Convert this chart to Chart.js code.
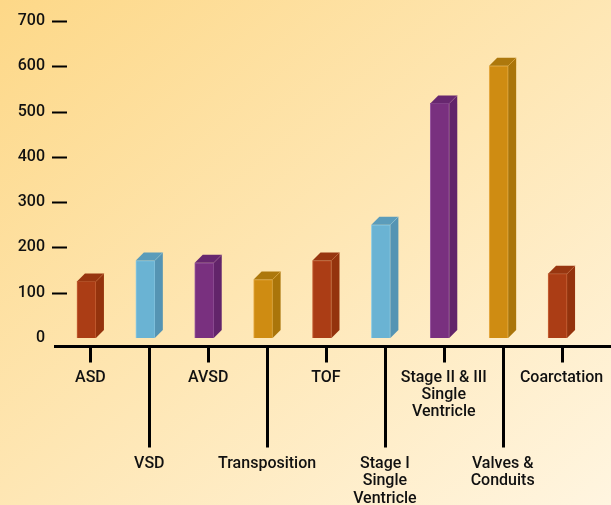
<!DOCTYPE html>
<html>
<head>
<meta charset="utf-8">
<script src="https://cdn.jsdelivr.net/npm/chart.js@4.4.1/dist/chart.umd.min.js"></script>
<style>
    html, body { margin: 0; padding: 0; }
    body {
        width: 611px;
        height: 505px;
        background: linear-gradient(to bottom right, #fdd888, #fff5e0);
    }
    #wrap { position: relative; width: 611px; height: 505px; }
</style>
</head>
<body>
<div id="wrap"><canvas id="defects"></canvas></div>
<script>
// Data
const categories = [
    ['ASD'],
    ['VSD'],
    ['AVSD'],
    ['Transposition'],
    ['TOF'],
    ['Stage I', 'Single', 'Ventricle'],
    ['Stage II & III', 'Single', 'Ventricle'],
    ['Valves &', 'Conduits'],
    ['Coarctation']
];
const caseCounts = [125, 171, 166, 129, 171, 250, 518, 601, 142];
const yTickValues = [0, 100, 200, 300, 400, 500, 600, 700];

// Colours repeat every four bars: red, blue, purple, gold
const frontColors = ['#ab3d15', '#6ab3d3', '#79307f', '#cf8c12'];
const edgeColors = ['#c9663a', '#8ccbe5', '#9a5aa0', '#e8ad47'];
const sideColors = ['#94330d', '#5594b3', '#62246a', '#aa750a'];
const topColors = ['#983610', '#5b9cba', '#67276f', '#ad780d'];

const DEPTH = 8;

// Draws the side and top faces of each bar, shifted so the whole block sits on its tick
const bar3d = {
    id: 'bar3d',
    beforeDatasetsDraw(chart) {
        chart.ctx.save();
        chart.ctx.translate(-4, 0);
    },
    afterDatasetsDraw(chart) {
        const ctx = chart.ctx;
        chart.getDatasetMeta(0).data.forEach((bar, i) => {
            const p = bar.getProps(['x', 'y', 'base', 'width'], true);
            const l = p.x - p.width / 2;
            const r = p.x + p.width / 2;
            ctx.lineWidth = 0.8;

            ctx.beginPath();
            ctx.moveTo(r, p.y);
            ctx.lineTo(r + DEPTH, p.y - DEPTH);
            ctx.lineTo(r + DEPTH, p.base - DEPTH);
            ctx.lineTo(r, p.base);
            ctx.closePath();
            ctx.fillStyle = sideColors[i % 4];
            ctx.fill();

            ctx.beginPath();
            ctx.moveTo(l, p.y);
            ctx.lineTo(l + DEPTH, p.y - DEPTH);
            ctx.lineTo(r + DEPTH, p.y - DEPTH);
            ctx.lineTo(r, p.y);
            ctx.closePath();
            ctx.fillStyle = topColors[i % 4];
            ctx.fill();
            ctx.strokeStyle = edgeColors[i % 4];
            ctx.globalAlpha = 0.5;
            ctx.beginPath();
            ctx.moveTo(r, p.y);
            ctx.lineTo(r + DEPTH, p.y - DEPTH);
            ctx.stroke();
            ctx.globalAlpha = 1;
        });
        ctx.restore();
    }
};

// Axis line, dashes on the value axis and the short / long category ticks
const axisDecor = {
    id: 'axisDecor',
    afterDraw(chart) {
        const ctx = chart.ctx;
        const xs = chart.scales.x;
        const ys = chart.scales.y;
        const axisY = ys.getPixelForValue(0) + 8.5;
        ctx.save();
        ctx.strokeStyle = '#000';

        ctx.lineWidth = 2;
        ys.ticks.forEach(t => {
            if (t.value === 0) return;
            const y = Math.round(ys.getPixelForValue(t.value)) + 0.5;
            ctx.beginPath();
            ctx.moveTo(ys.right - 9, y);
            ctx.lineTo(ys.right + 6, y);
            ctx.stroke();
        });

        ctx.lineWidth = 3;
        ctx.beginPath();
        ctx.moveTo(ys.right - 7, axisY);
        ctx.lineTo(chart.width, axisY);
        ctx.stroke();

        categories.forEach((c, i) => {
            const x = Math.round(xs.getPixelForValue(i)) + 0.5;
            ctx.beginPath();
            ctx.moveTo(x, axisY);
            ctx.lineTo(x, axisY + (i % 2 ? 101 : 16));
            ctx.stroke();
        });
        ctx.restore();
    }
};

Chart.defaults.font.family = 'Roboto';
Chart.defaults.font.size = 16;
Chart.defaults.font.weight = '500';
Chart.defaults.color = '#111';

const ctxDefects = document.getElementById('defects').getContext('2d');
const defectsChart = new Chart(ctxDefects, {
    type: 'bar',
    data: {
        labels: categories,
        datasets: [{
            data: caseCounts,
            backgroundColor: caseCounts.map((v, i) => frontColors[i % 4]),
            borderColor: caseCounts.map((v, i) => edgeColors[i % 4]),
            borderWidth: 1,
            barThickness: 19
        }]
    },
    options: {
        responsive: true,
        maintainAspectRatio: false,
        animation: false,
        layout: { padding: { top: 21, right: 20, left: 0, bottom: 0 } },
        plugins: { legend: { display: false }, tooltip: { enabled: false } },
        scales: {
            x: {
                afterFit: scale => {
                    scale.height = 167;
                    scale.paddingLeft = 0;
                    scale.paddingRight = 0;
                },
                grid: { display: false, drawTicks: false },
                border: { display: false },
                ticks: {
                    padding: 31,
                    autoSkip: false,
                    maxRotation: 0,
                    font: { lineHeight: 1.08 },
                    // every second label hangs below the long tick
                    callback: function (value, index) {
                        const lines = categories[index];
                        return index % 2 ? ['', '', '', '', ''].concat(lines) : lines;
                    }
                }
            },
            y: {
                min: 0,
                max: 700,
                afterFit: scale => {
                    scale.width = 61;
                    scale.paddingTop = 0;
                    scale.paddingBottom = 0;
                },
                afterBuildTicks: scale => { scale.ticks = yTickValues.map(v => ({ value: v })); },
                grid: { display: false, drawTicks: false },
                border: { display: false },
                ticks: { padding: 16 }
            }
        }
    },
    plugins: [bar3d, axisDecor]
});
</script>
</body>
</html>
